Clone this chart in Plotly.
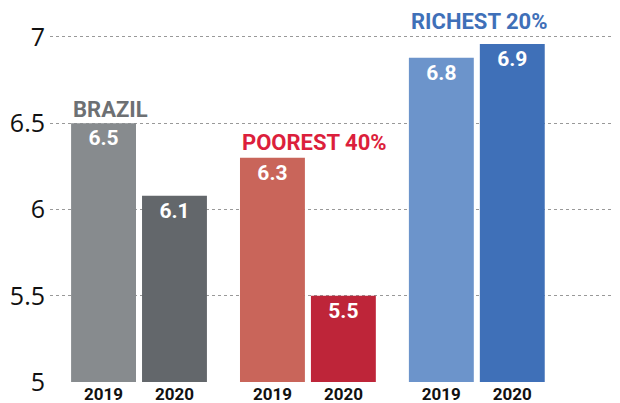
import plotly.graph_objects as go

groups = ["BRAZIL", "POOREST 40%", "RICHEST 20%"]
years = ["2019", "2020"]
values_2019 = [6.5, 6.3, 6.88]
values_2020 = [6.08, 5.5, 6.96]
labels_2019 = ["6.5", "6.3", "6.8"]
labels_2020 = ["6.1", "5.5", "6.9"]
colors_2019 = ["#878b8e", "#c9655a", "#6c94cb"]
colors_2020 = ["#63676b", "#be2539", "#3f70b8"]
group_colors = ["#6d7073", "#dc1f3c", "#3f70b8"]
y_ticks = [5, 5.5, 6, 6.5, 7]

BARGAP = 0.16
BARGROUPGAP = 0.085
xpos = list(range(len(groups)))
slot = (1 - BARGAP) / 2

fig = go.Figure()
for vals, labs, cols, yr in [(values_2019, labels_2019, colors_2019, years[0]),
                             (values_2020, labels_2020, colors_2020, years[1])]:
    fig.add_trace(go.Bar(
        x=xpos, y=vals, name=yr, text=labs,
        marker=dict(color=cols, line=dict(width=0)),
        textposition="inside", insidetextanchor="end", textangle=0,
        textfont=dict(family="Roboto", size=21, color="white", weight="bold"),
        constraintext="none",
    ))

tickvals, ticktext = [], []
for i in xpos:
    tickvals += [i - slot / 2, i + slot / 2]
    ticktext += years

label_shifts = [-1, 1, 8]
for i, g in enumerate(groups):
    fig.add_annotation(
        x=i - slot + slot * BARGROUPGAP / 2, y=max(values_2019[i], values_2020[i]),
        xref="x", yref="y", xanchor="left", yanchor="bottom",
        text="<b>" + g + "</b>", showarrow=False, yshift=label_shifts[i],
        font=dict(family="Roboto", size=22, color=group_colors[i]),
    )

# page body has an 8px default margin, so the figure is sized to fit the window
fig.update_layout(
    width=612, height=395,
    margin=dict(l=42, r=3, t=0, b=21),
    paper_bgcolor="white", plot_bgcolor="white",
    barmode="group", bargap=BARGAP, bargroupgap=BARGROUPGAP,
    showlegend=False,
    xaxis=dict(range=[-0.527, 2.83], tickvals=tickvals, ticktext=ticktext,
               showgrid=False, zeroline=False, showline=False, ticks="",
               tickfont=dict(family="Roboto", size=17, color="#111", weight="bold")),
    yaxis=dict(range=[5, 7.168], tickvals=y_ticks,
               ticktext=[f"{v:g}" for v in y_ticks],
               showgrid=True, gridcolor="#999", griddash="dot", gridwidth=1,
               zeroline=False, showline=False, ticks="", ticklabelstandoff=4,
               tickfont=dict(family="Open Sans", size=25, color="#111")),
)

fig.write_html("out.html")
